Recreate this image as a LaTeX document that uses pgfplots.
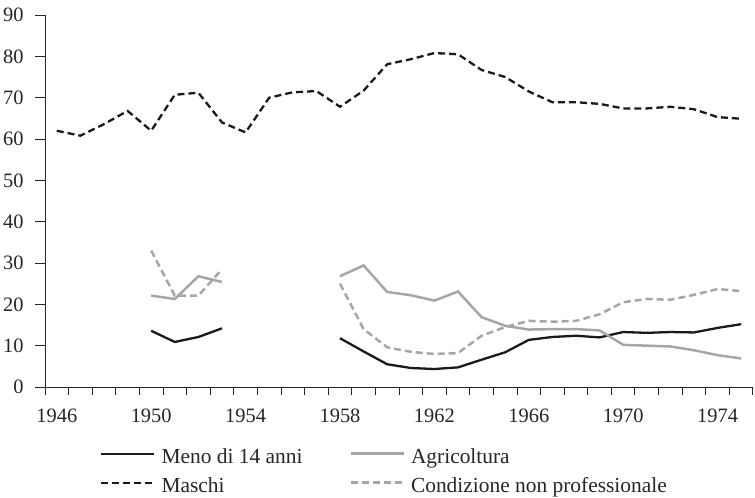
\documentclass[border=0pt]{standalone}
\usepackage{fontspec}
\setmainfont{Liberation Serif}
\usepackage{pgfplots}
\pgfplotsset{compat=1.18}
\definecolor{dk}{HTML}{1A1A1A}
\definecolor{gr}{HTML}{A6A6A6}
\begin{document}
\begin{tikzpicture}
\useasboundingbox (-45bp,-111bp) rectangle (710bp,387bp);
\begin{axis}[
  at={(0,0)}, anchor=south west,
  scale only axis, width=708bp, height=372bp,
  xmin=1945.5, xmax=1975.5, ymin=0, ymax=90,
  axis x line=bottom, axis y line=left,
  axis line style={-, line width=0.9bp, black!85},
  xtick={1946,1950,...,1974},
  xticklabels={1946,1950,1954,1958,1962,1966,1970,1974},
  major x tick style={draw=none},
  minor xtick={1945.5,1946.5,...,1975.5},
  minor tick length=8bp,
  minor x tick style={line width=0.9bp, black!85},
  ytick={0,10,...,90},
  major tick length=10bp,
  tick align=outside,
  ytick style={line width=0.9bp, black!85},
  /pgf/number format/assume math mode=true,
  tick label style={font=\fontsize{20.5}{24}\selectfont, text=black!85},
  xticklabel style={yshift=-8bp},
  yticklabel style={xshift=-8bp},
  unbounded coords=jump,
  legend columns=2,
  legend cell align=left,
  legend style={at={(axis description cs:0.0777,-0.168)}, anchor=north west,
    draw=none, fill=none, inner sep=0pt,
    font=\fontsize{21.5}{25}\selectfont, text=black!85,
    nodes={inner sep=0pt, text height=14bp, text depth=4bp},
    row sep=11bp,
    /tikz/every odd column/.append style={column sep=6bp},
    /tikz/column 2/.style={column sep=47bp},
    /tikz/column 3/.style={column sep=11bp}},
  legend image code/.code={\draw[#1] (0bp,5bp) -- (53bp,5bp);},
]
\addplot[dk, line width=2.3bp] coordinates {
(1950,13.6) (1951,10.9) (1952,12.1) (1953,14.2) (1954,nan)
(1958,11.8) (1959,8.6) (1960,5.5) (1961,4.6) (1962,4.35) (1963,4.75)
(1964,6.6) (1965,8.4) (1966,11.4) (1967,12.1) (1968,12.4) (1969,12.0)
(1970,13.3) (1971,13.1) (1972,13.3) (1973,13.2) (1974,14.3) (1975,15.2)
};
\addlegendentry{Meno di 14 anni}
\addplot[gr, line width=2.5bp] coordinates {
(1950,22.1) (1951,21.3) (1952,26.8) (1953,25.4) (1954,nan)
(1958,26.8) (1959,29.4) (1960,23.0) (1961,22.2) (1962,20.9) (1963,23.1)
(1964,16.9) (1965,14.8) (1966,13.9) (1967,14.0) (1968,14.0) (1969,13.7)
(1970,10.2) (1971,10.0) (1972,9.8) (1973,8.9) (1974,7.7) (1975,6.9)
};
\addlegendentry{Agricoltura}
\addplot[dk, line width=2.3bp, dash pattern=on 7bp off 4bp] coordinates {
(1946,62.0) (1947,60.8) (1948,63.6) (1949,66.8) (1950,62.0) (1951,70.7)
(1952,71.2) (1953,64.0) (1954,61.6) (1955,70.0) (1956,71.3) (1957,71.6)
(1958,67.8) (1959,71.7) (1960,78.1) (1961,79.3) (1962,80.8) (1963,80.5)
(1964,76.7) (1965,75.0) (1966,71.5) (1967,68.9) (1968,68.9) (1969,68.5)
(1970,67.4) (1971,67.4) (1972,67.8) (1973,67.2) (1974,65.3) (1975,64.9)
};
\addlegendentry{Maschi}
\addplot[gr, line width=2.5bp, dash pattern=on 7bp off 4bp] coordinates {
(1950,33.0) (1951,22.1) (1952,22.1) (1953,28.5) (1954,nan)
(1958,25.0) (1959,14.0) (1960,9.6) (1961,8.5) (1962,8.0) (1963,8.2)
(1964,12.4) (1965,14.5) (1966,16.0) (1967,15.8) (1968,16.0) (1969,17.6)
(1970,20.5) (1971,21.3) (1972,21.1) (1973,22.3) (1974,23.7) (1975,23.2)
};
\addlegendentry{Condizione non professionale}
\end{axis}
\end{tikzpicture}
\end{document}
